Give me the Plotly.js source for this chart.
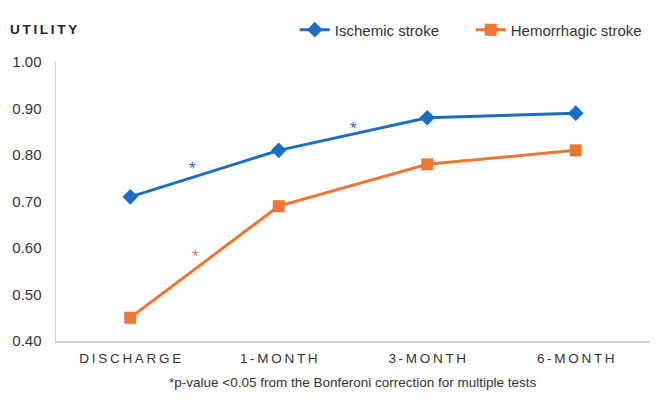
<!DOCTYPE html>
<html><head><meta charset="utf-8">
<script src="https://cdn.plot.ly/plotly-3.0.1.min.js"></script>
<style>html,body{margin:0;padding:0;background:#fff}#chart{width:669px;height:400px}</style>
</head><body><div id="chart"></div>
<script>
const categories = ["DISCHARGE", "1-MONTH", "3-MONTH", "6-MONTH"];
const ischemic = [0.71, 0.81, 0.88, 0.89];
const hemorrhagic = [0.45, 0.69, 0.78, 0.81];
const yTicks = [0.4, 0.5, 0.6, 0.7, 0.8, 0.9, 1.0];
// significance markers (between time points)
const sigIschemicX = [0.42, 1.5];
const sigIschemicY = [0.771, 0.857];
const sigHemorrhagicX = [0.44];
const sigHemorrhagicY = [0.582];

const spaced = s => s.split("").join("\u2009");
const blue = "#1B6EC2", orange = "#EE7633";

const traces = [
  {x: [0,1,2,3], y: ischemic, name: "Ischemic stroke", type: "scatter", mode: "lines+markers",
   line: {color: blue, width: 3}, marker: {symbol: "diamond", size: 12, color: blue}},
  {x: [0,1,2,3], y: hemorrhagic, name: "Hemorrhagic stroke", type: "scatter", mode: "lines+markers",
   line: {color: orange, width: 3}, marker: {symbol: "square", size: 12, color: orange}}
];

const ann = [];
sigIschemicX.forEach((x,i)=>ann.push({x:x, y:sigIschemicY[i], xref:"x", yref:"y", text:"*", showarrow:false, font:{size:17, color:blue, family:"Liberation Sans"}}));
sigHemorrhagicX.forEach((x,i)=>ann.push({x:x, y:sigHemorrhagicY[i], xref:"x", yref:"y", text:"*", showarrow:false, font:{size:17, color:orange, family:"Liberation Sans"}}));
ann.push({xref:"paper", yref:"paper", x:-0.08, y:1.117, xanchor:"left", yanchor:"middle", text:"<b>"+spaced("UTILITY")+"</b>", showarrow:false, font:{size:13.5, color:"#222", family:"Liberation Sans"}});
ann.push({xref:"paper", yref:"paper", x:0.5, y:-0.148, xanchor:"center", yanchor:"middle", text:"*p-value <0.05 from the Bonferoni correction for multiple tests", showarrow:false, font:{size:13.5, color:"#333", family:"Liberation Sans"}});

const layout = {
  width: 669, height: 400,
  margin: {l: 56, r: 19, t: 62, b: 59, autoexpand: false},
  paper_bgcolor: "#fff", plot_bgcolor: "#fff",
  font: {family: "Liberation Sans, Arial", color: "#404040"},
  showlegend: true,
  legend: {orientation: "h", x: 0.402, xanchor: "left", y: 1.115, yanchor: "middle", font: {size: 15, color: "#333", family: "Liberation Sans"}, itemwidth: 30, entrywidth: 131, tracegroupgap: 0},
  xaxis: {range: [-0.5, 3.5], tickvals: [0,1,2,3], ticktext: categories.map(spaced), showgrid: false, zeroline: false,
          showline: true, linecolor: "#d0d0d0", linewidth: 1.5, ticks: "", ticklabelstandoff: 4, tickfont: {size: 13.5, color: "#333"}, fixedrange: true},
  yaxis: {range: [0.4, 1.0], tickvals: yTicks, ticktext: yTicks.map(v=>v.toFixed(2)), showgrid: false, zeroline: false,
          showline: true, linecolor: "#d0d0d0", linewidth: 1.5, ticks: "", ticklen: 0, ticklabelstandoff: 10, tickfont: {size: 15, color: "#333"}, fixedrange: true},
  annotations: ann
};
Plotly.newPlot("chart", traces, layout, {displayModeBar: false, staticPlot: true});
</script></body></html>
